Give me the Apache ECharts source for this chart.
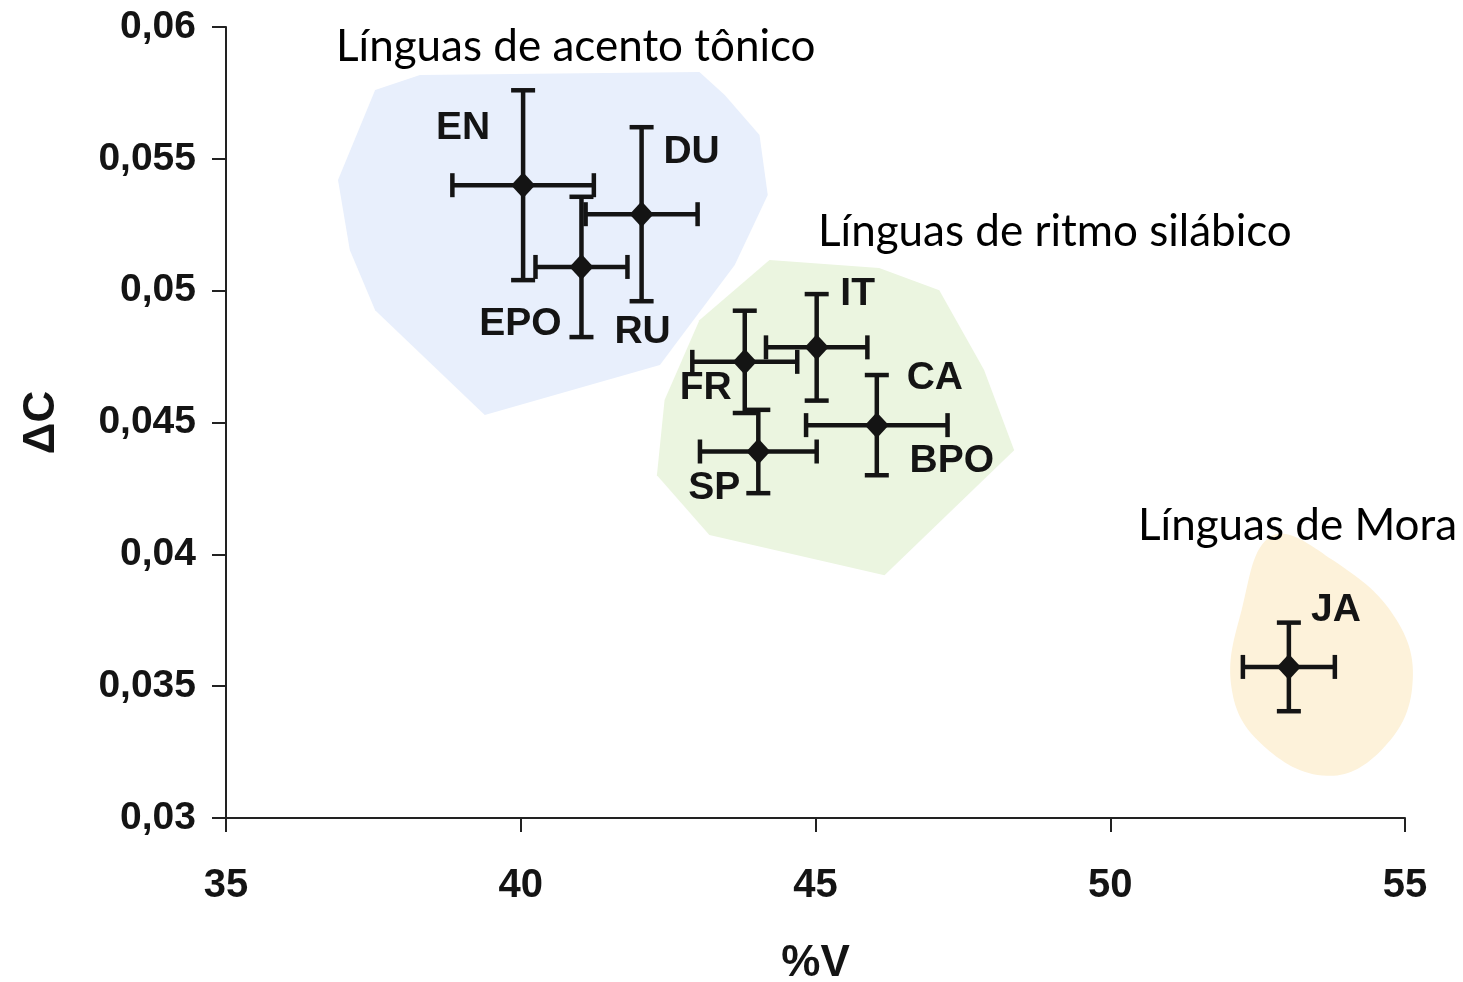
<!DOCTYPE html>
<html>
<head>
<meta charset="utf-8">
<title>%V x ΔC</title>
<script src="https://cdn.jsdelivr.net/npm/echarts@6/dist/echarts.min.js"></script>
<style>
  html, body { margin: 0; padding: 0; background: #fff; }
  #chart { width: 1463px; height: 982px; }
</style>
</head>
<body>
<div id="chart"></div>
<script>
// dados
const languages = ["EN", "DU", "EPO", "FR", "IT", "CA", "SP", "JA"];
const pctV = [40.04, 42.05, 41.03, 43.8, 45.02, 46.04, 44.03, 53.03];
const deltaC = [0.054, 0.0529, 0.0509, 0.0473, 0.04785, 0.0449, 0.0439, 0.03573];
const errV = [1.2, 0.95, 0.78, 0.89, 0.86, 1.2, 0.99, 0.78];
const errC = [0.0036, 0.0033, 0.00266, 0.00194, 0.00202, 0.0019, 0.00158, 0.00168];

// rótulos: nome -> índice do ponto
const labelNames = ["EN", "DU", "RU", "EPO", "FR", "IT", "CA", "BPO", "SP", "JA"];
const labelPoint = [0, 1, 1, 2, 3, 4, 5, 5, 6, 7];

const xTicks = [35, 40, 45, 50, 55];

// contornos das regiões (em unidades dos eixos)
const stressBlob = [[36.9, 0.0542], [37.53, 0.05761], [38.29, 0.05818], [43.03, 0.05829], [43.46, 0.05742], [44.05, 0.0559], [44.19, 0.05363], [43.63, 0.05097], [42.36, 0.04718], [39.39, 0.04528], [37.53, 0.04926], [37.1, 0.05154]];
const syllableBlob = [[44.22, 0.05116], [46.08, 0.05086], [47.1, 0.05002], [47.86, 0.04699], [48.37, 0.04395], [46.17, 0.03921], [43.2, 0.04073], [42.31, 0.043], [42.44, 0.04585], [43.03, 0.04888]];
const moraBlob = [[52.74, 0.0407], [53.76, 0.0398], [54.86, 0.0375], [55.12, 0.0349], [54.61, 0.0326], [53.68, 0.0316], [52.57, 0.0328], [52.06, 0.0349], [52.23, 0.0379]];

const groupTitles = ["Línguas de acento tônico", "Línguas de ritmo silábico", "Línguas de Mora"];

// estilos
const blobColors = ["#e8effc", "#ebf5e0", "#fdf2da"];
const blobSmooth = [0, 0, 0.4];
const labelOffsets = {
  EN: [-60, -57], DU: [50, -62], RU: [1, 118], EPO: [-61, 57], FR: [-39, 26],
  IT: [41, -53], CA: [58, -47], BPO: [75, 36], SP: [-44, 37], JA: [47, -57]
};
const ink = "#141414";

const chart = echarts.init(document.getElementById("chart"));

const fmt = (v) => String(+v.toFixed(3)).replace(".", ",");

const option = {
  backgroundColor: "#fff",
  animation: false,
  grid: { left: 226, right: 58, top: 27, bottom: 164, outerBoundsMode: "none" },
  xAxis: {
    type: "value",
    min: 35, max: 55, interval: 5,
    name: "%V",
    nameLocation: "middle",
    nameGap: 124,
    nameTextStyle: { fontFamily: "Liberation Sans", fontWeight: "bold", fontSize: 44, color: ink },
    axisLine: { lineStyle: { color: "#222", width: 2 } },
    axisTick: { length: 14, lineStyle: { color: "#222", width: 2 } },
    axisLabel: {
      margin: 48, fontFamily: "Liberation Sans", fontWeight: "bold", fontSize: 40, color: ink,
      customValues: xTicks
    },
    splitLine: { show: false }
  },
  yAxis: {
    type: "value",
    min: 0.03, max: 0.06, interval: 0.005,
    name: "ΔC",
    nameLocation: "middle",
    nameGap: 162,
    nameRotate: 90,
    nameTextStyle: { fontFamily: "Liberation Sans", fontWeight: "bold", fontSize: 44, color: ink },
    axisLine: { show: true, lineStyle: { color: "#222", width: 2 } },
    axisTick: { show: true, length: 14, lineStyle: { color: "#222", width: 2 } },
    axisLabel: {
      margin: 30, fontFamily: "Liberation Sans", fontWeight: "bold", fontSize: 39, color: ink,
      formatter: fmt
    },
    splitLine: { show: false }
  },
  graphic: [
    { type: "text", left: 336, top: 25, z: 10, style: { text: groupTitles[0], font: "44px Lato", fill: "#000" } },
    { type: "text", left: 818, top: 210, z: 10, style: { text: groupTitles[1], font: "44px Lato", fill: "#000" } },
    { type: "text", left: 1138, top: 504, z: 10, style: { text: groupTitles[2], font: "44px Lato", fill: "#000" } }
  ],
  series: [
    {
      type: "custom",
      name: "regioes",
      coordinateSystem: "cartesian2d",
      silent: true,
      z: 1,
      data: [0, 1, 2],
      renderItem: function (params, api) {
        const i = params.dataIndex;
        const blob = [stressBlob, syllableBlob, moraBlob][i];
        const pts = blob.map((p) => api.coord(p));
        return {
          type: "polygon",
          shape: { points: pts, smooth: blobSmooth[i] },
          style: { fill: blobColors[i], stroke: null }
        };
      }
    },
    {
      type: "custom",
      name: "erros",
      coordinateSystem: "cartesian2d",
      z: 3,
      data: languages.map((l, i) => [pctV[i], deltaC[i], errV[i], errC[i]]),
      renderItem: function (params, api) {
        const x = api.value(0), y = api.value(1), ex = api.value(2), ey = api.value(3);
        const l = api.coord([x - ex, y]);
        const r = api.coord([x + ex, y]);
        const t = api.coord([x, y + ey]);
        const b = api.coord([x, y - ey]);
        const cap = 12;
        const st = { stroke: ink, lineWidth: 4.5 };
        const line = (x1, y1, x2, y2) => ({ type: "line", shape: { x1, y1, x2, y2 }, style: st });
        return {
          type: "group",
          children: [
            line(l[0], l[1], r[0], r[1]),
            line(t[0], t[1], b[0], b[1]),
            line(l[0], l[1] - cap, l[0], l[1] + cap),
            line(r[0], r[1] - cap, r[0], r[1] + cap),
            line(t[0] - cap, t[1], t[0] + cap, t[1]),
            line(b[0] - cap, b[1], b[0] + cap, b[1])
          ]
        };
      }
    },
    {
      type: "scatter",
      name: "pontos",
      z: 4,
      symbol: "diamond",
      symbolSize: [24, 26],
      itemStyle: { color: ink, opacity: 1 },
      data: languages.map((l, i) => ({ name: l, value: [pctV[i], deltaC[i]] }))
    },
    {
      type: "scatter",
      name: "rotulos",
      z: 5,
      symbolSize: 0,
      silent: true,
      itemStyle: { opacity: 1 },
      data: labelNames.map((n, k) => ({
        name: n,
        value: [pctV[labelPoint[k]], deltaC[labelPoint[k]]],
        label: {
          show: true,
          position: "inside",
          offset: labelOffsets[n],
          formatter: n,
          fontFamily: "Liberation Sans",
          fontWeight: "bold",
          fontSize: 39,
          color: ink
        }
      }))
    }
  ]
};

chart.setOption(option);
window.addEventListener("resize", function () {
  chart.resize();
});
</script>
</body>
</html>
